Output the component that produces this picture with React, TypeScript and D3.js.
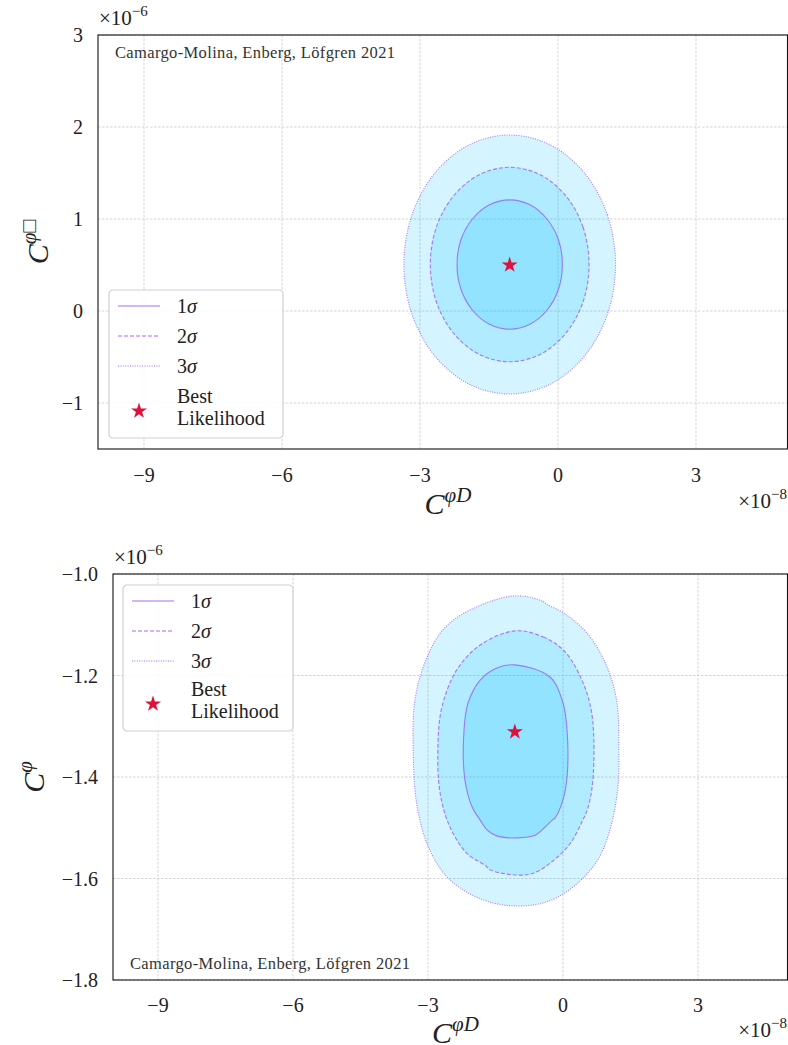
import React from "react";
import * as d3 from "d3";

// x values in units of 1e-8, y values in units of 1e-6
const xTicks = [-9, -6, -3, 0, 3];
const topYTicks = [-1, 0, 1, 2, 3];
const bottomYTicks = [-1.8, -1.6, -1.4, -1.2, -1.0];
const sigmaNames = ["1", "2", "3"];
const credit = "Camargo-Molina, Enberg, Löfgren 2021";

const topBest: [number, number] = [-1.05, 0.5];
const topSigma1: [number, number][] = [
  [0.095, 0.505], [0.01, 0.774], [-0.24, 1.0], [-0.61, 1.154], [-1.05, 1.208], [-1.49, 1.154],
  [-1.86, 1.0], [-2.11, 0.774], [-2.195, 0.505], [-2.11, 0.236], [-1.86, 0.008], [-1.49, -0.144],
  [-1.05, -0.198], [-0.61, -0.144], [-0.24, 0.008], [0.01, 0.236],
];
const topSigma2: [number, number][] = [
  [0.675, 0.505], [0.545, 0.91], [0.17, 1.252], [-0.39, 1.482], [-1.05, 1.562], [-1.71, 1.482],
  [-2.27, 1.252], [-2.645, 0.91], [-2.775, 0.505], [-2.645, 0.1], [-2.27, -0.242], [-1.71, -0.472],
  [-1.05, -0.552], [-0.39, -0.472], [0.17, -0.242], [0.545, 0.1],
];
const topSigma3: [number, number][] = [
  [1.25, 0.505], [1.075, 1.044], [0.576, 1.5], [-0.17, 1.806], [-1.05, 1.913], [-1.93, 1.806],
  [-2.676, 1.5], [-3.175, 1.044], [-3.35, 0.505], [-3.175, -0.034], [-2.676, -0.49], [-1.93, -0.796],
  [-1.05, -0.902], [-0.17, -0.796], [0.576, -0.49], [1.075, -0.034],
];

const bottomBest: [number, number] = [-1.07, -1.311];
const bottomSigma1: [number, number][] = [
  [-1.07, -1.179], [-0.29, -1.203], [0.0, -1.254], [0.09, -1.308], [0.09, -1.4], [0.0, -1.445],
  [-0.18, -1.481], [-0.24, -1.485], [-0.44, -1.502], [-0.62, -1.515], [-1.02, -1.52], [-1.47, -1.516],
  [-1.69, -1.504], [-1.84, -1.485], [-2.02, -1.459], [-2.18, -1.406], [-2.2, -1.308], [-2.11, -1.254],
  [-1.84, -1.209], [-1.47, -1.185],
];
const bottomSigma2: [number, number][] = [
  [-1.07, -1.112], [-0.44, -1.124], [0.04, -1.153], [0.42, -1.209], [0.64, -1.275], [0.67, -1.4],
  [0.56, -1.459], [0.44, -1.485], [0.16, -1.531], [-0.22, -1.565], [-0.67, -1.59], [-1.07, -1.593],
  [-1.62, -1.583], [-1.73, -1.574], [-2.13, -1.551], [-2.51, -1.499], [-2.73, -1.432], [-2.78, -1.341],
  [-2.69, -1.262], [-2.36, -1.189], [-1.84, -1.14],
];
const bottomSigma3: [number, number][] = [
  [-1.07, -1.043], [-0.44, -1.054], [-0.36, -1.06], [0.0, -1.076], [0.53, -1.116], [0.98, -1.183],
  [1.2, -1.254], [1.24, -1.341], [1.22, -1.42], [1.04, -1.505], [0.76, -1.565], [0.22, -1.617],
  [-0.36, -1.646], [-1.07, -1.654], [-1.78, -1.642], [-2.51, -1.603], [-2.96, -1.544], [-3.24, -1.459],
  [-3.33, -1.341], [-3.29, -1.248], [-3.07, -1.175], [-2.67, -1.11], [-2.07, -1.071],
];

const font = "'Liberation Serif', 'DejaVu Serif', serif";
const lineColor = "#9a5cf0";
const fillColor = "#00bfff";
const starColor = "#e0103c";
const dashes = ["none", "4 2", "1 1.4"];

const fmt = (v: number, dec: number) => (v < 0 ? "\u2212" : "") + Math.abs(v).toFixed(dec);

function Legend({ x0, y0, w, h }) {
  const star = d3.symbol().type(d3.symbolStar).size(80)();
  return (
    <g transform={`translate(${x0},${y0})`} fontFamily={font}>
      <rect width={w} height={h} rx={4} fill="white" fillOpacity={0.85} stroke="#d0d0d0" strokeWidth={1.2} />
      {sigmaNames.map((s, i) => (
        <g key={s} transform={`translate(0,${16 + i * 30})`}>
          <line x1={9} x2={51} stroke={lineColor} strokeOpacity={0.6} strokeWidth={1.3} strokeDasharray={dashes[i]} />
          <text x={68} dy="0.33em" fontSize={20} fill="#222">
            {s}<tspan fontStyle="italic">σ</tspan>
          </text>
        </g>
      ))}
      <path d={star!} transform={`translate(30,${h - 27})`} fill={starColor} />
      <text x={68} y={h - 35} fontSize={20} fill="#222">Best</text>
      <text x={68} y={h - 13} fontSize={20} fill="#222">Likelihood</text>
    </g>
  );
}

function Panel({ left, top, bottom, yDomain, yTicks, yDec, contours, best, yLabel, creditY, legendAt, xTickY, xLabelY, xOffY }) {
  const right = 788;
  const x = d3.scaleLinear().domain([-10, 5]).range([left, right]);
  const y = d3.scaleLinear().domain(yDomain).range([bottom, top]);
  const path = d3.line<[number, number]>()
    .x((d) => x(d[0]))
    .y((d) => y(d[1]))
    .curve(d3.curveCatmullRomClosed.alpha(0.5));
  const star = d3.symbol().type(d3.symbolStar).size(80)();
  const clipId = "clip" + top;
  const order = [contours[2], contours[1], contours[0]];
  return (
    <g fontFamily={font}>
      <defs>
        <clipPath id={clipId}>
          <rect x={left} y={top} width={right - left} height={bottom - top} />
        </clipPath>
      </defs>
      {xTicks.map((t) => (
        <line key={"gx" + t} x1={x(t)} x2={x(t)} y1={top} y2={bottom} stroke="#cfcfcf" strokeWidth={0.9} strokeDasharray="2.5 1.5" />
      ))}
      {yTicks.map((t) => (
        <line key={"gy" + t} x1={left} x2={right} y1={y(t)} y2={y(t)} stroke="#cfcfcf" strokeWidth={0.9} strokeDasharray="2.5 1.5" />
      ))}
      <g clipPath={`url(#${clipId})`}>
        {order.map((c, i) => (
          <path key={"f" + i} d={path(c)!} fill={fillColor} fillOpacity={0.17} />
        ))}
        {contours.map((c, i) => (
          <path key={"s" + i} d={path(c)!} fill="none" stroke={lineColor} strokeOpacity={0.8} strokeWidth={1.1} strokeDasharray={dashes[i]} />
        ))}
        <path d={star!} transform={`translate(${x(best[0])},${y(best[1])})`} fill={starColor} />
      </g>
      <rect x={left} y={top} width={right - left - 0.5} height={bottom - top} fill="none" stroke="#111" strokeWidth={1.1} />
      {xTicks.map((t) => (
        <text key={"tx" + t} x={x(t)} y={xTickY} textAnchor="middle" fontSize={20} fill="#222">{fmt(t, 0)}</text>
      ))}
      {yTicks.map((t) => (
        <text key={"ty" + t} x={left - 15} y={y(t)} dy="0.35em" textAnchor="end" fontSize={20} fill="#222">{fmt(t, yDec)}</text>
      ))}
      <text x={left + 17} y={creditY} fontSize={16.5} fill="#333" textLength={280}>{credit}</text>
      <text x={left + 1} y={top - 10} fontSize={21} fill="#222">
        ×10<tspan dy={-9} fontSize={15}>−6</tspan>
      </text>
      <text x={787} y={xOffY} textAnchor="end" fontSize={21} fill="#222">
        ×10<tspan dy={-9} fontSize={15}>−8</tspan>
      </text>
      <text x={(left + right) / 2 + 5} y={xLabelY} textAnchor="middle" fontSize={30} fill="#222">
        <tspan fontStyle="italic">C</tspan>
        <tspan dy={-12} fontSize={21} fontStyle="italic">φD</tspan>
      </text>
      <text transform={`translate(${yLabel.x},${(top + bottom) / 2}) rotate(-90)`} textAnchor="middle" fontSize={30} fill="#222">
        <tspan fontStyle="italic">C</tspan>
        <tspan dy={-12} fontSize={21} fontStyle="italic">φ</tspan>
        {yLabel.box ? <tspan fontSize={21}>□</tspan> : null}
      </text>
      <Legend x0={legendAt[0]} y0={legendAt[1]} w={legendAt[2]} h={legendAt[3]} />
    </g>
  );
}

export default function App() {
  return (
    <svg width={788} height={1045} style={{ position: "absolute", left: 0, top: 0, background: "white" }}>
      <Panel
        left={98} top={35} bottom={449}
        yDomain={[-1.5, 3]} yTicks={topYTicks} yDec={0}
        contours={[topSigma1, topSigma2, topSigma3]} best={topBest}
        yLabel={{ x: 48, box: true }} creditY={58}
        legendAt={[109, 290, 174, 148]}
        xTickY={482} xLabelY={514} xOffY={508}
      />
      <Panel
        left={113} top={574} bottom={980}
        yDomain={[-1.8, -1.0]} yTicks={bottomYTicks} yDec={1}
        contours={[bottomSigma1, bottomSigma2, bottomSigma3]} best={bottomBest}
        yLabel={{ x: 44, box: false }} creditY={969}
        legendAt={[123, 585, 170, 146]}
        xTickY={1012} xLabelY={1043} xOffY={1037}
      />
    </svg>
  );
}
